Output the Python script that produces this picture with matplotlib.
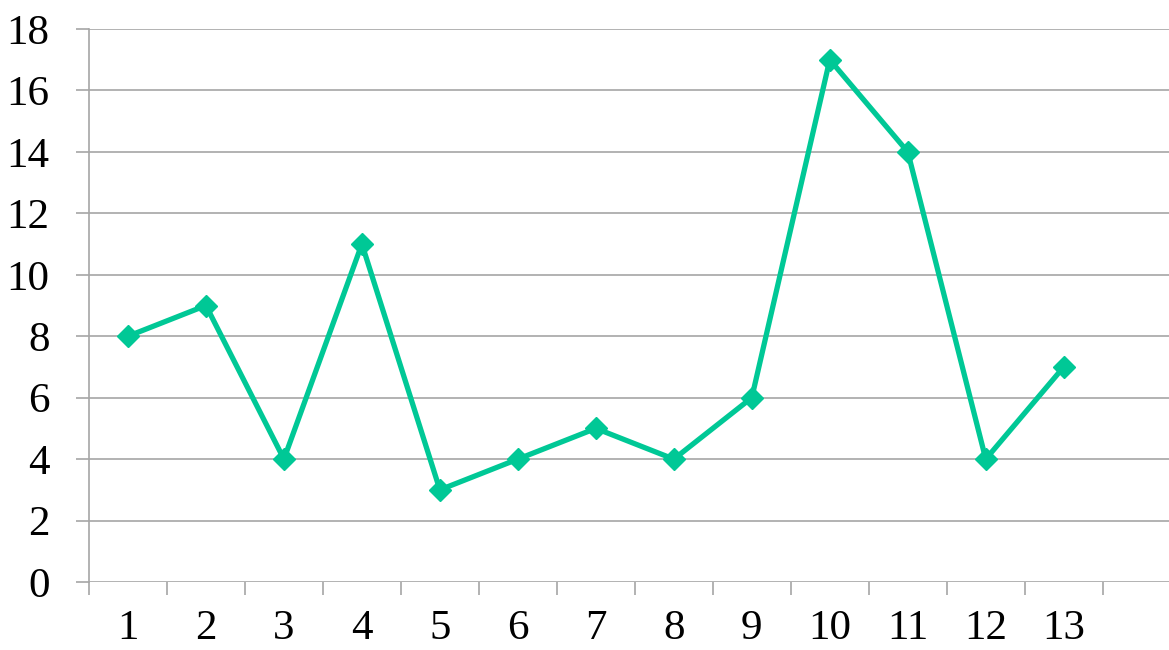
import matplotlib.pyplot as plt

# values
categories = [str(i) for i in range(1, 14)]
values = [8, 9, 4, 11, 3, 4, 5, 4, 6, 17, 14, 4, 7]
y_ticks = [0, 2, 4, 6, 8, 10, 12, 14, 16, 18]

plt.rcParams['font.family'] = ['Liberation Serif', 'DejaVu Serif']

fig = plt.figure(figsize=(11.69, 6.5), dpi=100)
ax = fig.add_axes([0.0761, 0.1046, 0.9239, 0.8508])

x = list(range(1, len(values) + 1))
ax.plot(x, values, color='#00C896', linewidth=3.8, marker='D',
        markersize=11, zorder=3, clip_on=False)

ax.set_ylim(0, 18)
ax.set_yticks(y_ticks)
ax.set_xlim(0.5, 14.35)

# category boundaries as ticks, labels at the centres
ax.set_xticks([i + 0.5 for i in range(0, 14)])
ax.set_xticklabels([])
ax.set_xticks(x, minor=True)
ax.set_xticklabels(categories, minor=True)

ax.grid(axis='y', color='#a6a6a6', linewidth=1.2)
ax.set_axisbelow(True)

for s in ['top', 'right', 'bottom']:
    ax.spines[s].set_visible(False)
ax.spines['left'].set_color('#a6a6a6')
ax.spines['left'].set_linewidth(1.2)

ax.tick_params(axis='y', length=9.5, width=1.2, color='#a6a6a6',
               labelsize=31, pad=19)
ax.tick_params(axis='x', which='major', length=9.5, width=1.2,
               color='#a6a6a6')
ax.tick_params(axis='x', which='minor', length=0, labelsize=31, pad=20)

fig.savefig('out.png', dpi=100)
